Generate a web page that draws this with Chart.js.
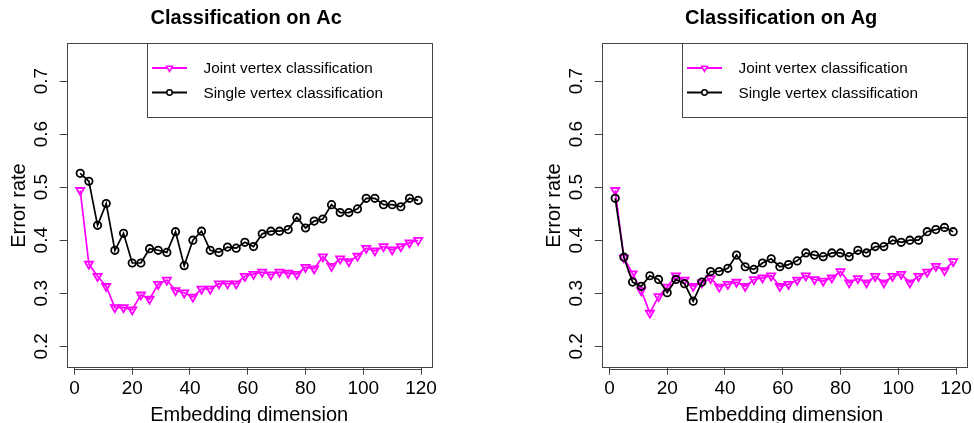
<!DOCTYPE html>
<html>
<head>
<meta charset="utf-8">
<script src="https://cdn.jsdelivr.net/npm/chart.js@4.4.1/dist/chart.umd.min.js"></script>
<style>
  html, body { margin: 0; padding: 0; background: #ffffff; overflow: hidden; width: 974px; height: 423px; }
  .panel { position: absolute; top: 0; width: 487px; height: 423px; }
  #p1 { left: 0px; }
  #p2 { left: 535px; }
</style>
</head>
<body>
<div class="panel" id="p1"><canvas id="c1" width="487" height="423"></canvas></div>
<div class="panel" id="p2"><canvas id="c2" width="487" height="423"></canvas></div>
<script>
// ---- data ----
const dims = [2,5,8,11,14,17,20,23,26,29,32,35,38,41,44,47,50,53,56,59,62,65,68,71,74,77,80,83,86,89,92,95,98,101,104,107,110,113,116,119];
const xTicks = [0,20,40,60,80,100,120];
const yTicks = [0.2,0.3,0.4,0.5,0.6,0.7];
const seriesNames = ["Joint vertex classification", "Single vertex classification"];
const panelTitles = ["Classification on Ac", "Classification on Ag"];
const xTitle = "Embedding dimension";
const yTitle = "Error rate";

const acJoint  = [0.494,0.355,0.332,0.313,0.273,0.273,0.269,0.297,0.289,0.317,0.325,0.305,0.301,0.293,0.308,0.308,0.318,0.318,0.318,0.332,0.336,0.340,0.335,0.340,0.338,0.336,0.349,0.346,0.369,0.351,0.365,0.360,0.370,0.385,0.380,0.388,0.382,0.388,0.395,0.400];
const acSingle = [0.526,0.511,0.428,0.469,0.381,0.413,0.357,0.357,0.384,0.381,0.377,0.416,0.352,0.400,0.417,0.381,0.377,0.387,0.385,0.396,0.388,0.412,0.417,0.417,0.420,0.443,0.423,0.436,0.440,0.467,0.452,0.452,0.459,0.479,0.479,0.467,0.467,0.463,0.479,0.475];
const agJoint  = [0.494,0.367,0.337,0.305,0.263,0.294,0.312,0.333,0.325,0.313,0.320,0.328,0.312,0.317,0.321,0.313,0.326,0.329,0.333,0.313,0.317,0.325,0.333,0.326,0.323,0.329,0.341,0.320,0.328,0.320,0.332,0.320,0.332,0.336,0.320,0.332,0.340,0.351,0.343,0.360];
const agSingle = [0.479,0.368,0.321,0.313,0.333,0.326,0.301,0.326,0.318,0.285,0.321,0.341,0.341,0.347,0.372,0.350,0.345,0.357,0.365,0.350,0.354,0.361,0.376,0.372,0.369,0.376,0.376,0.369,0.381,0.376,0.388,0.388,0.400,0.396,0.400,0.400,0.416,0.420,0.424,0.416];

// ---- styling ----
const FONT = "'Liberation Sans', Arial, Helvetica, sans-serif";
const MAGENTA = "#ff00ff";
const BLACK = "#000000";
const AXIS = "#444444";

function pts(vals) { return dims.map((d, i) => ({ x: d, y: vals[i] })); }

const decorPlugin = {
  id: 'decor',
  afterDraw(chart) {
    const ctx = chart.ctx;
    const a = chart.chartArea;
    const xs = chart.scales.x, ys = chart.scales.y;
    const title = chart.options.plugins.decor.title;
    ctx.save();
    // box
    ctx.strokeStyle = AXIS;
    ctx.lineWidth = 1;
    ctx.strokeRect(Math.round(a.left) + 0.5, Math.round(a.top) + 0.5, Math.round(a.right - a.left), Math.round(a.bottom - a.top));
    // x axis line from first to last tick
    const x0 = xs.getPixelForValue(xTicks[0]), x1 = xs.getPixelForValue(xTicks[xTicks.length - 1]);
    ctx.beginPath();
    ctx.moveTo(x0, Math.round(a.bottom) + 1.5);
    ctx.lineTo(x1, Math.round(a.bottom) + 1.5);
    ctx.stroke();

    ctx.fillStyle = '#000';
    // title
    ctx.font = "bold 20px " + FONT;
    ctx.textAlign = 'center';
    ctx.textBaseline = 'alphabetic';
    ctx.fillText(title, (a.left + a.right) / 2 - 3, 24);
    // x title
    ctx.font = "20px " + FONT;
    ctx.fillText(xTitle, (a.left + a.right) / 2, 421);
    // y title
    ctx.save();
    ctx.translate(25, (a.top + a.bottom) / 2);
    ctx.rotate(-Math.PI / 2);
    ctx.fillText(yTitle, 0, 0);
    ctx.restore();
    // y tick labels (rotated like R)
    ctx.font = "19px " + FONT;
    yTicks.forEach(v => {
      const py = ys.getPixelForValue(v);
      ctx.save();
      ctx.translate(46.5, py);
      ctx.rotate(-Math.PI / 2);
      ctx.fillText(v.toFixed(1), 0, 0);
      ctx.restore();
    });

    // legend
    const lw = 285, lh = 74;
    const lx = Math.round(a.right) - lw, ly = Math.round(a.top);
    ctx.fillStyle = '#fff';
    ctx.fillRect(lx + 0.5, ly + 0.5, lw, lh);
    ctx.strokeStyle = AXIS;
    ctx.strokeRect(lx + 0.5, ly + 0.5, lw, lh);
    const rows = [
      { name: seriesNames[0], color: MAGENTA, style: 'tri', y: ly + 25 },
      { name: seriesNames[1], color: BLACK, style: 'circ', y: ly + 49.5 }
    ];
    rows.forEach(r => {
      ctx.strokeStyle = r.color;
      ctx.lineWidth = 2;
      ctx.beginPath();
      ctx.moveTo(lx + 5, r.y);
      ctx.lineTo(lx + 40, r.y);
      ctx.stroke();
      ctx.lineWidth = 1.5;
      const cx = lx + 22.5;
      ctx.beginPath();
      if (r.style === 'tri') {
        const rr = 3.4;
        ctx.fillStyle = '#fff';
        ctx.moveTo(cx - rr * 0.866, r.y - rr * 0.5);
        ctx.lineTo(cx + rr * 0.866, r.y - rr * 0.5);
        ctx.lineTo(cx, r.y + rr);
        ctx.closePath();
        ctx.fill();
        ctx.stroke();
      } else {
        ctx.fillStyle = '#fff';
        ctx.arc(cx, r.y, 2.7, 0, Math.PI * 2);
        ctx.fill();
        ctx.stroke();
      }
      ctx.fillStyle = '#000';
      ctx.font = "15.3px " + FONT;
      ctx.textAlign = 'left';
      ctx.textBaseline = 'middle';
      ctx.fillText(r.name, lx + 56.5, r.y + 0.8);
    });
    ctx.restore();
  }
};

function makeChart(id, title, joint, single) {
  return new Chart(document.getElementById(id), {
    type: 'line',
    data: {
      datasets: [
        {
          label: seriesNames[1],
          data: pts(single),
          borderColor: BLACK,
          borderWidth: 1.7,
          pointStyle: 'circle',
          pointRadius: 3.7,
          pointBorderWidth: 1.8,
          pointBorderColor: BLACK,
          pointBackgroundColor: 'rgba(0,0,0,0)',
          tension: 0
        },
        {
          label: seriesNames[0],
          data: pts(joint),
          borderColor: MAGENTA,
          borderWidth: 1.7,
          pointStyle: 'triangle',
          pointRotation: 180,
          pointRadius: 4.7,
          pointBorderWidth: 1.8,
          pointBorderColor: MAGENTA,
          pointBackgroundColor: 'rgba(0,0,0,0)',
          tension: 0
        }
      ]
    },
    options: {
      responsive: false,
      devicePixelRatio: 1,
      animation: false,
      events: [],
      layout: { padding: { left: 58.7, right: 55.3, top: 43.3, bottom: 0 } },
      plugins: {
        legend: { display: false },
        tooltip: { enabled: false },
        title: { display: false },
        decor: { title: title }
      },
      scales: {
        x: {
          type: 'linear',
          min: -2.68,
          max: 123.68,
          afterBuildTicks: s => { s.ticks = xTicks.map(v => ({ value: v })); },
          afterFit: s => { s.height = 55.3; },
          grid: { display: true, drawOnChartArea: false, drawTicks: true, tickLength: 7, tickColor: AXIS, tickWidth: 1 },
          border: { display: false },
          ticks: { color: '#000', font: { family: FONT, size: 19 }, padding: 2.5, maxRotation: 0, minRotation: 0, autoSkip: false }
        },
        y: {
          type: 'linear',
          min: 0.1597,
          max: 0.7711,
          afterBuildTicks: s => { s.ticks = yTicks.map(v => ({ value: v })); },
          afterFit: s => { s.width = 8; },
          grid: { display: true, drawOnChartArea: false, drawTicks: true, tickLength: 7, tickColor: AXIS, tickWidth: 1 },
          border: { display: false },
          ticks: { display: false }
        }
      }
    },
    plugins: [decorPlugin]
  });
}

makeChart('c1', panelTitles[0], acJoint, acSingle);
makeChart('c2', panelTitles[1], agJoint, agSingle);
</script>
</body>
</html>
